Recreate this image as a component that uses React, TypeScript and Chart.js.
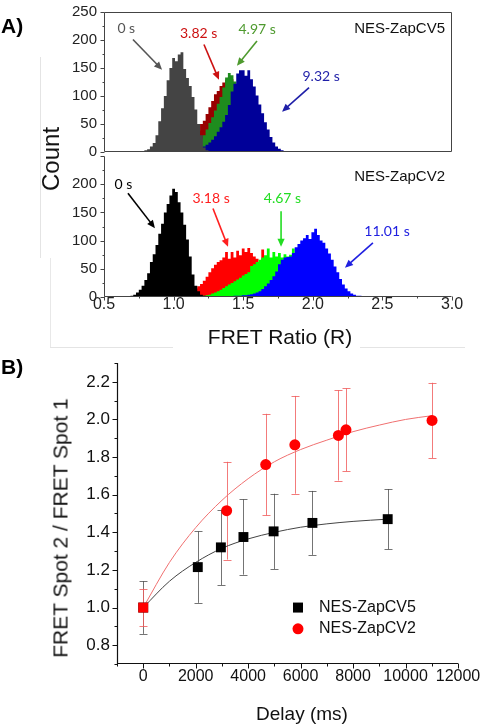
import React, { useEffect, useRef } from 'react';
import { Chart, registerables } from 'chart.js';

Chart.register(...registerables);

const FONT = "'Liberation Sans', Arial, sans-serif";
const NOTE_FONT = "Lato, 'Open Sans', sans-serif";

// ---------------- Panel A : FRET ratio histograms (bin width 0.02) ----------------
const binWidth = 0.02;

// NES-ZapCV5 (top)
const cv5Times = ['0 s', '3.82 s', '4.97 s', '9.32 s'];
const cv5GrayStart = 0.74;
const cv5Gray = [1, 2, 1, 3, 5, 10, 16, 30, 55, 78, 100, 128, 150, 168, 162, 174, 178, 148, 132, 118, 98, 76, 50, 30, 8, 3, 1];
const cv5RedStart = 1.02;
const cv5Red = [1, 2, 2, 4, 8, 14, 20, 28, 38, 50, 56, 68, 80, 91, 103, 109, 118, 124, 129, 134, 130, 125, 115, 105, 92, 80, 68, 55, 44, 33, 24, 17, 11, 7, 4, 2, 1];
const cv5GreenStart = 1.06;
const cv5Green = [1, 3, 5, 8, 11, 15, 19, 24, 30, 40, 52, 62, 74, 86, 98, 115, 133, 141, 137, 126, 112, 98, 84, 70, 56, 44, 33, 24, 16, 10, 6, 3, 1];
const cv5BlueStart = 1.06;
const cv5Blue = [1, 2, 3, 3, 4, 5, 6, 8, 10, 13, 17, 22, 28, 36, 44, 54, 66, 84, 108, 122, 140, 146, 146, 136, 146, 130, 117, 101, 85, 69, 53, 40, 27, 17, 10, 6, 3, 2, 1];

// NES-ZapCV2 (bottom)
const cv2Times = ['0 s', '3.18 s', '4.67 s', '11.01 s'];
const cv2BlackStart = 0.66;
const cv2Black = [1, 1, 2, 4, 8, 13, 20, 30, 42, 62, 76, 92, 112, 130, 150, 165, 180, 192, 186, 168, 150, 128, 102, 72, 40, 20, 10, 4, 2];
const cv2RedStart = 0.9;
const cv2Red = [1, 1, 1, 2, 2, 2, 3, 3, 4, 5, 7, 9, 12, 15, 19, 23, 29, 36, 44, 51, 57, 62, 65, 70, 80, 68, 80, 70, 82, 74, 86, 80, 87, 78, 72, 68, 62, 84, 58, 52, 46, 40, 34, 28, 22, 16, 11, 7, 4, 2, 1];
const cv2GreenStart = 1.16;
const cv2Green = [1, 1, 2, 2, 3, 4, 6, 8, 10, 13, 16, 19, 22, 25, 28, 31, 34, 38, 41, 44, 55, 58, 62, 66, 70, 74, 86, 70, 80, 72, 78, 70, 76, 72, 75, 86, 65, 55, 45, 35, 26, 20, 14, 10, 6, 4, 2, 1];
const cv2BlueStart = 1.4;
const cv2Blue = [1, 1, 2, 2, 2, 3, 3, 4, 5, 6, 8, 10, 14, 19, 24, 30, 37, 45, 58, 66, 70, 71, 72, 78, 88, 94, 100, 104, 110, 103, 115, 121, 110, 100, 96, 86, 77, 66, 54, 44, 32, 22, 15, 10, 6, 4, 2, 2, 1, 1];

// ---------------- Panel B : FRET Spot2 / Spot1 vs delay ----------------
const seriesNames = ['NES-ZapCV5', 'NES-ZapCV2'];
const cv5Delay = [0, 2080, 2960, 3820, 4970, 6450, 9320];
const cv5Ratio = [1.0, 1.215, 1.32, 1.375, 1.405, 1.45, 1.47];
const cv5Err = [0.14, 0.19, 0.2, 0.2, 0.2, 0.17, 0.16];
const cv2Delay = [0, 3180, 4670, 5780, 7440, 7730, 11010];
const cv2Ratio = [1.0, 1.515, 1.76, 1.865, 1.915, 1.945, 1.995];
const cv2Err = [0.1, 0.26, 0.27, 0.26, 0.24, 0.22, 0.2];
const cv5FitDelay = [0, 1000, 2000, 3000, 4000, 5000, 6000, 7000, 8000, 9320];
const cv5FitRatio = [1.0, 1.14, 1.24, 1.315, 1.365, 1.4, 1.427, 1.445, 1.458, 1.47];
const cv2FitDelay = [0, 1000, 2000, 3000, 4000, 5000, 6000, 7000, 8000, 9000, 10000, 11010];
const cv2FitRatio = [1.0, 1.24, 1.425, 1.57, 1.685, 1.775, 1.84, 1.89, 1.935, 1.97, 2.0, 2.02];

type Pt = { x: number; y: number };

const toSteps = (start: number, counts: number[]): Pt[] => {
  const pts: Pt[] = [{ x: +(start - binWidth).toFixed(3), y: 0 }];
  counts.forEach((c, i) => pts.push({ x: +(start + i * binWidth).toFixed(3), y: c }));
  pts.push({ x: +(start + counts.length * binWidth).toFixed(3), y: 0 });
  return pts;
};

const histDataset = (label: string, start: number, counts: number[], color: string, order: number) => ({
  label,
  data: toSteps(start, counts),
  stepped: 'middle',
  fill: 'origin',
  backgroundColor: color,
  borderColor: color,
  borderWidth: 0,
  pointRadius: 0,
  pointHoverRadius: 0,
  order,
});

const zip = (xs: number[], ys: number[]): Pt[] => xs.map((x, i) => ({ x, y: ys[i] }));

function drawArrow(ctx: CanvasRenderingContext2D, x1: number, y1: number, x2: number, y2: number, color: string) {
  const a = Math.atan2(y2 - y1, x2 - x1);
  const head = 8;
  const half = 3.6;
  ctx.save();
  ctx.strokeStyle = color;
  ctx.fillStyle = color;
  ctx.lineWidth = 1.6;
  ctx.beginPath();
  ctx.moveTo(x1, y1);
  ctx.lineTo(x2 - Math.cos(a) * head * 0.8, y2 - Math.sin(a) * head * 0.8);
  ctx.stroke();
  ctx.beginPath();
  ctx.moveTo(x2, y2);
  ctx.lineTo(x2 - head * Math.cos(a) + half * Math.sin(a), y2 - head * Math.sin(a) - half * Math.cos(a));
  ctx.lineTo(x2 - head * Math.cos(a) - half * Math.sin(a), y2 - head * Math.sin(a) + half * Math.cos(a));
  ctx.closePath();
  ctx.fill();
  ctx.restore();
}

type Note = { text: string; x: number; y: number; color: string; align?: CanvasTextAlign; font?: string };
type Arrow = { x1: number; y1: number; x2: number; y2: number; color: string };

const panelAPlugin = (isTop: boolean, notes: Note[], arrows: Arrow[]) => ({
  id: 'panelA',
  afterDatasetsDraw(chart: any) {
    const { ctx, chartArea: ca, scales } = chart;
    const xs = scales.x;
    const ys = scales.y;
    ctx.save();
    ctx.strokeStyle = '#444';
    ctx.lineWidth = 1;
    const L = Math.round(ca.left) + 0.5;
    const R = Math.round(ca.right) - 0.5;
    const T = Math.round(ca.top) + 0.5;
    const B = Math.round(ca.bottom) - 0.5;
    ctx.beginPath();
    ctx.moveTo(L, T);
    ctx.lineTo(L, B);
    ctx.lineTo(R, B);
    if (isTop) {
      ctx.lineTo(R, T);
      ctx.lineTo(L, T);
    }
    ctx.stroke();
    ys.ticks.forEach((t: any) => {
      const py = Math.round(ys.getPixelForValue(t.value)) + 0.5;
      const len = t.value % 50 === 0 ? 4 : 2;
      ctx.beginPath();
      ctx.moveTo(L - len, py);
      ctx.lineTo(L, py);
      ctx.stroke();
    });
    if (!isTop) {
      xs.ticks.forEach((t: any) => {
        const px = Math.round(xs.getPixelForValue(t.value)) + 0.5;
        const major = Math.abs(t.value * 2 - Math.round(t.value * 2)) < 1e-6;
        const len = major ? 4 : 2;
        ctx.beginPath();
        ctx.moveTo(px, B);
        ctx.lineTo(px, B + len);
        ctx.stroke();
      });
    }
    arrows.forEach((a) =>
      drawArrow(ctx, xs.getPixelForValue(a.x1), ys.getPixelForValue(a.y1), xs.getPixelForValue(a.x2), ys.getPixelForValue(a.y2), a.color)
    );
    notes.forEach((n) => {
      ctx.fillStyle = n.color;
      ctx.font = n.font || `14px ${NOTE_FONT}`;
      ctx.textAlign = n.align || 'center';
      ctx.textBaseline = 'middle';
      ctx.fillText(n.text, xs.getPixelForValue(n.x), ys.getPixelForValue(n.y));
    });
    ctx.restore();
  },
});

const panelAConfig = (isTop: boolean, datasets: any[], notes: Note[], arrows: Arrow[]): any => ({
  type: 'line',
  data: { datasets },
  options: {
    animation: false,
    responsive: false,
    events: [],
    layout: { padding: { left: 0, right: 30, top: isTop ? 11 : 10, bottom: isTop ? 10 : 0 } },
    plugins: { legend: { display: false }, tooltip: { enabled: false } },
    scales: {
      x: {
        type: 'linear',
        min: 0.5,
        max: 3.0,
        display: !isTop,
        ticks: {
          stepSize: 0.25,
          autoSkip: false,
          maxRotation: 0,
          padding: 0,
          color: '#222',
          font: { family: FONT, size: 16, lineHeight: 1 },
          callback: (v: number) => (Math.abs(v * 2 - Math.round(v * 2)) < 1e-6 ? v.toFixed(1) : ''),
        },
        grid: { display: false, drawTicks: false },
        border: { display: false },
        afterFit: (s: any) => {
          s.height = isTop ? 0 : 53;
        },
      },
      y: {
        min: 0,
        max: 250,
        ticks: {
          stepSize: 25,
          autoSkip: false,
          padding: 3,
          color: '#222',
          font: { family: FONT, size: 15 },
          callback: (v: number) => (v % 50 === 0 && (isTop || v !== 250) ? String(v) : ''),
        },
        grid: { display: false, tickLength: 4 },
        border: { display: false },
        afterFit: (s: any) => {
          s.width = 104;
        },
      },
    },
  },
  plugins: [panelAPlugin(isTop, notes, arrows)],
});

const topNotes: Note[] = [
  { text: cv5Times[0], x: 0.66, y: 220, color: '#555555' },
  { text: cv5Times[1], x: 1.18, y: 211, color: '#cc1111' },
  { text: cv5Times[2], x: 1.6, y: 218, color: '#4e9a2e' },
  { text: cv5Times[3], x: 2.06, y: 135, color: '#1f1fa8' },
  { text: seriesNames[0], x: 2.95, y: 220, color: '#111', align: 'right', font: `15px ${FONT}` },
];
const topArrows: Arrow[] = [
  { x1: 0.708, y1: 201, x2: 0.917, y2: 147, color: '#555555' },
  { x1: 1.218, y1: 192, x2: 1.326, y2: 129, color: '#cc1111' },
  { x1: 1.599, y1: 198, x2: 1.455, y2: 154, color: '#4e9a2e' },
  { x1: 1.973, y1: 115, x2: 1.779, y2: 72, color: '#1f1fa8' },
];
const botNotes: Note[] = [
  { text: cv2Times[0], x: 0.64, y: 199, color: '#000' },
  { text: cv2Times[1], x: 1.269, y: 175, color: '#ff2020' },
  { text: cv2Times[2], x: 1.782, y: 175, color: '#22dd22' },
  { text: cv2Times[3], x: 2.533, y: 117, color: '#2020e0' },
  { text: seriesNames[1], x: 2.95, y: 213, color: '#111', align: 'right', font: `15px ${FONT}` },
];
const botArrows: Arrow[] = [
  { x1: 0.672, y1: 184, x2: 0.866, y2: 122, color: '#000' },
  { x1: 1.283, y1: 157, x2: 1.391, y2: 89, color: '#ff2020' },
  { x1: 1.772, y1: 152, x2: 1.772, y2: 89, color: '#22dd22' },
  { x1: 2.432, y1: 96, x2: 2.231, y2: 52, color: '#2020e0' },
];

// ---------------- Panel B plugin: axes, ticks, error bars, legend ----------------
const panelBPlugin = {
  id: 'panelB',
  beforeDatasetsDraw(chart: any) {
    const { ctx, scales } = chart;
    const xs = scales.x;
    const ys = scales.y;
    chart.data.datasets.forEach((ds: any) => {
      if (!ds.errorBars) return;
      ctx.save();
      ctx.strokeStyle = ds.errorColor;
      ctx.lineWidth = 1;
      ds.data.forEach((p: Pt, j: number) => {
        const e = ds.errorBars[j];
        const px = Math.round(xs.getPixelForValue(p.x)) + 0.5;
        const yt = ys.getPixelForValue(p.y + e);
        const yb = ys.getPixelForValue(p.y - e);
        ctx.beginPath();
        ctx.moveTo(px, yt);
        ctx.lineTo(px, yb);
        ctx.moveTo(px - 4, Math.round(yt) + 0.5);
        ctx.lineTo(px + 4, Math.round(yt) + 0.5);
        ctx.moveTo(px - 4, Math.round(yb) + 0.5);
        ctx.lineTo(px + 4, Math.round(yb) + 0.5);
        ctx.stroke();
      });
      ctx.restore();
    });
  },
  afterDatasetsDraw(chart: any) {
    const { ctx, chartArea: ca, scales } = chart;
    const xs = scales.x;
    const ys = scales.y;
    ctx.save();
    ctx.strokeStyle = '#111';
    ctx.lineWidth = 1.2;
    const L = Math.round(ca.left) + 0.5;
    const B = Math.round(ca.bottom) - 0.5;
    ctx.beginPath();
    ctx.moveTo(L, ca.top);
    ctx.lineTo(L, B);
    ctx.lineTo(ca.right, B);
    ctx.stroke();
    ctx.lineWidth = 1;
    ys.ticks.forEach((t: any) => {
      const k = Math.round(t.value * 10);
      const len = k % 2 === 0 ? 5 : 3;
      const py = Math.round(ys.getPixelForValue(t.value)) + 0.5;
      ctx.beginPath();
      ctx.moveTo(L - len, py);
      ctx.lineTo(L, py);
      ctx.stroke();
    });
    xs.ticks.forEach((t: any) => {
      const len = t.value % 2000 === 0 ? 5 : 3;
      const px = Math.round(xs.getPixelForValue(t.value)) + 0.5;
      ctx.beginPath();
      ctx.moveTo(px, B);
      ctx.lineTo(px, B + len);
      ctx.stroke();
    });
    const lx = xs.getPixelForValue(5900);
    const ly = [ys.getPixelForValue(1.0), ys.getPixelForValue(0.887)];
    ctx.fillStyle = '#000';
    ctx.fillRect(lx - 5, ly[0] - 5, 10, 10);
    ctx.fillStyle = '#ff0000';
    ctx.beginPath();
    ctx.arc(lx, ly[1], 5.5, 0, Math.PI * 2);
    ctx.fill();
    ctx.fillStyle = '#111';
    ctx.font = `16px ${FONT}`;
    ctx.textAlign = 'left';
    ctx.textBaseline = 'middle';
    ctx.fillText(seriesNames[0], lx + 21, ly[0]);
    ctx.fillText(seriesNames[1], lx + 21, ly[1]);
    ctx.restore();
  },
};

const panelBConfig = (): any => ({
  type: 'line',
  data: {
    datasets: [
      {
        label: 'fit2',
        data: zip(cv2FitDelay, cv2FitRatio),
        borderColor: '#f07070',
        borderWidth: 1,
        pointRadius: 0,
        cubicInterpolationMode: 'monotone',
        fill: false,
        order: 5,
      },
      {
        label: 'fit5',
        data: zip(cv5FitDelay, cv5FitRatio),
        borderColor: '#444',
        borderWidth: 1,
        pointRadius: 0,
        cubicInterpolationMode: 'monotone',
        fill: false,
        order: 4,
      },
      {
        label: seriesNames[0],
        data: zip(cv5Delay, cv5Ratio),
        showLine: false,
        pointStyle: 'rect',
        pointRadius: 7,
        pointBackgroundColor: '#000',
        pointBorderWidth: 0,
        errorBars: cv5Err,
        errorColor: 'rgba(70,70,70,0.75)',
        order: 2,
      },
      {
        label: seriesNames[1],
        data: zip(cv2Delay, cv2Ratio),
        showLine: false,
        pointStyle: cv2Delay.map((d) => (d === 0 ? 'rect' : 'circle')),
        pointRadius: cv2Delay.map((d) => (d === 0 ? 7 : 5.5)),
        pointBackgroundColor: '#ff0000',
        pointBorderWidth: 0,
        errorBars: cv2Err,
        errorColor: 'rgba(240,90,90,0.8)',
        order: 1,
      },
    ],
  },
  options: {
    animation: false,
    responsive: false,
    events: [],
    layout: { padding: { left: 0, right: 24, top: 13, bottom: 0 } },
    plugins: { legend: { display: false }, tooltip: { enabled: false } },
    scales: {
      x: {
        type: 'linear',
        min: -1000,
        max: 12000,
        ticks: {
          stepSize: 1000,
          autoSkip: false,
          maxRotation: 0,
          padding: 0,
          color: '#111',
          font: { family: FONT, size: 16, lineHeight: 1 },
          callback: (v: number) => (v >= 0 && v % 2000 === 0 ? String(v) : ''),
        },
        grid: { display: false, tickLength: 5 },
        border: { display: false },
        afterFit: (s: any) => {
          s.height = 64;
        },
      },
      y: {
        min: 0.7,
        max: 2.3,
        ticks: {
          stepSize: 0.1,
          autoSkip: false,
          padding: 2,
          color: '#111',
          font: { family: FONT, size: 17 },
          callback: (v: number) => {
            const k = Math.round(v * 10);
            return k % 2 === 0 && k >= 8 && k <= 22 ? (k / 10).toFixed(1) : '';
          },
        },
        grid: { display: false, tickLength: 5 },
        border: { display: false },
        afterFit: (s: any) => {
          s.width = 117;
        },
      },
    },
  },
  plugins: [panelBPlugin],
});

const abs = (l: number, t: number, extra: React.CSSProperties = {}): React.CSSProperties => ({
  position: 'absolute',
  left: l,
  top: t,
  ...extra,
});

const centered = (cx: number, cy: number, size: number, rotate = 0, weight = 'normal'): React.CSSProperties => ({
  position: 'absolute',
  left: cx,
  top: cy,
  transform: `translate(-50%, -50%) rotate(${rotate}deg)`,
  fontFamily: FONT,
  fontSize: size,
  fontWeight: weight as any,
  lineHeight: 1,
  whiteSpace: 'nowrap',
  color: '#111',
});

export default function App() {
  const topRef = useRef<HTMLCanvasElement>(null);
  const botRef = useRef<HTMLCanvasElement>(null);
  const bRef = useRef<HTMLCanvasElement>(null);

  useEffect(() => {
    const top = new Chart(
      topRef.current as HTMLCanvasElement,
      panelAConfig(
        true,
        [
          histDataset(cv5Times[0], cv5GrayStart, cv5Gray, '#444444', 0),
          histDataset(cv5Times[1], cv5RedStart, cv5Red, '#990000', 3),
          histDataset(cv5Times[2], cv5GreenStart, cv5Green, '#1e8c1e', 2),
          histDataset(cv5Times[3], cv5BlueStart, cv5Blue, '#000099', 1),
        ],
        topNotes,
        topArrows
      )
    );
    const bot = new Chart(
      botRef.current as HTMLCanvasElement,
      panelAConfig(
        false,
        [
          histDataset(cv2Times[0], cv2BlackStart, cv2Black, '#000000', 0),
          histDataset(cv2Times[1], cv2RedStart, cv2Red, '#ff0000', 3),
          histDataset(cv2Times[2], cv2GreenStart, cv2Green, '#00ff00', 2),
          histDataset(cv2Times[3], cv2BlueStart, cv2Blue, '#0000ff', 1),
        ],
        botNotes,
        botArrows
      )
    );
    const b = new Chart(bRef.current as HTMLCanvasElement, panelBConfig());
    return () => {
      top.destroy();
      bot.destroy();
      b.destroy();
    };
  }, []);

  return (
    <div style={{ position: 'absolute', left: 0, top: 0, width: 482, height: 728, background: '#fff', overflow: 'hidden' }}>
      <div style={abs(40, 57, { width: 1, height: 201, background: '#e4e4e4' })} />
      <div style={abs(50, 258, { width: 1, height: 90, background: '#e8e8e8' })} />
      <div style={abs(50, 347, { width: 123, height: 1, background: '#e4e4e4' })} />
      <div style={abs(360, 347, { width: 105, height: 1, background: '#e4e4e4' })} />
      <canvas ref={topRef} width={482} height={164} style={abs(0, 0)} />
      <canvas ref={botRef} width={482} height={206} style={abs(0, 144)} />
      <canvas ref={bRef} width={482} height={378} style={abs(0, 350)} />
      <div style={abs(1, 15, { fontFamily: FONT, fontSize: 21, fontWeight: 'bold', lineHeight: 1, color: '#000' })}>A)</div>
      <div style={abs(1, 356, { fontFamily: FONT, fontSize: 21, fontWeight: 'bold', lineHeight: 1, color: '#000' })}>B)</div>
      <div style={centered(51, 159, 24, -90)}>Count</div>
      <div style={centered(280, 336, 21)}>FRET Ratio (R)</div>
      <div style={centered(60, 528, 21, -90)}>FRET Spot 2 / FRET Spot 1</div>
      <div style={centered(302, 713, 19)}>Delay (ms)</div>
    </div>
  );
}
